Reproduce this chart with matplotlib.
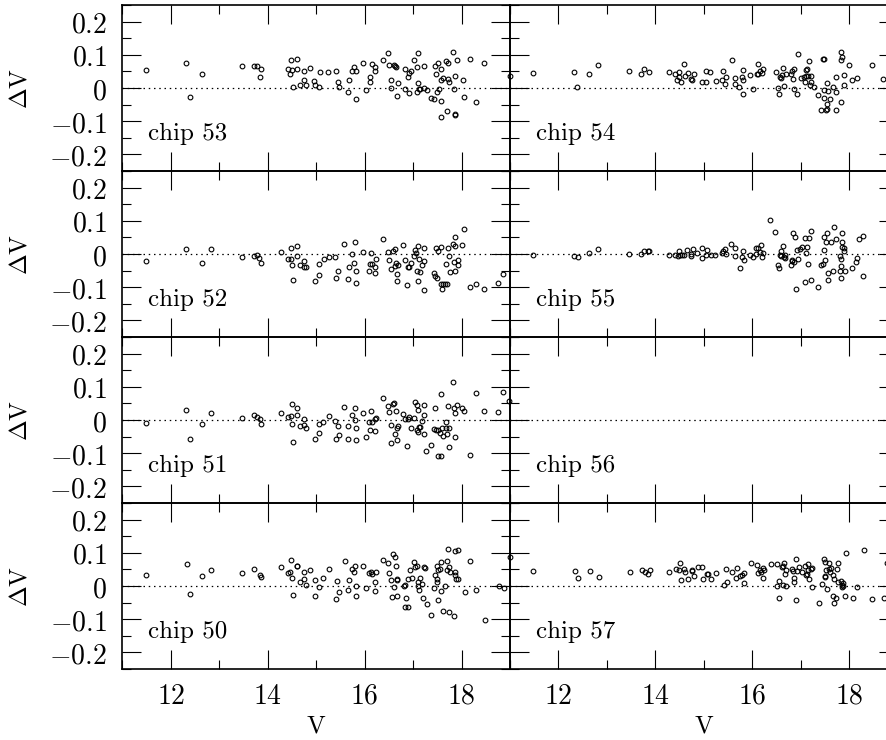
import matplotlib
matplotlib.use('Agg')
import matplotlib.pyplot as plt
from matplotlib.ticker import MultipleLocator

plt.rcParams['mathtext.fontset'] = 'cm'

# V magnitude and Delta V residuals
chip53_v = [11.48, 12.32, 12.40, 12.64, 13.47, 13.71, 13.78, 13.87, 13.85, 14.42, 14.47, 14.50, 14.49, 14.60,
            14.60, 14.53, 14.67, 14.75, 14.75, 14.79, 14.87, 14.96, 14.98, 15.05, 15.07, 15.25, 15.40, 15.45,
            15.48, 15.65, 15.67, 15.73, 15.79, 15.82, 15.82, 15.96, 16.02, 16.11, 16.12, 16.16, 16.22, 16.22,
            16.37, 16.48, 16.51, 16.60, 16.64, 16.62, 16.54, 16.55, 16.68, 16.67, 16.83, 16.84, 16.89, 16.91,
            16.92, 16.95, 17.01, 17.10, 17.09, 17.11, 17.09, 17.13, 17.15, 17.22, 17.23, 17.28, 17.36, 17.44,
            17.46, 17.48, 17.49, 17.52, 17.53, 17.57, 17.58, 17.57, 17.57, 17.62, 17.68, 17.69, 17.73, 17.73,
            17.75, 17.83, 17.84, 17.86, 17.86, 17.86, 17.91, 18.02, 18.06, 18.17, 18.29, 18.47, 19.00]
chip53_dv = [0.053, 0.075, -0.026, 0.042, 0.065, 0.067, 0.065, 0.056, 0.033, 0.057, 0.042, 0.053, 0.083, 0.088,
             0.057, 0.002, 0.010, 0.023, 0.051, 0.008, 0.059, 0.020, 0.010, 0.003, 0.048, 0.047, 0.051, 0.018,
             0.004, -0.013, 0.023, 0.051, 0.063, 0.051, -0.032, 0.076, -0.007, 0.017, 0.034, 0.073, 0.052, 0.062,
             0.084, 0.104, 0.068, 0.069, 0.064, 0.065, 0.025, 0.000, 0.015, -0.025, 0.056, -0.004, 0.034, -0.014,
             0.046, 0.050, 0.085, 0.104, 0.063, 0.016, -0.011, -0.004, -0.002, 0.001, 0.067, -0.007, -0.029, -0.034,
             0.065, 0.043, -0.012, 0.075, -0.002, 0.023, 0.056, -0.039, -0.086, 0.030, 0.080, -0.068, 0.074, 0.026,
             0.017, 0.108, -0.004, 0.037, -0.079, -0.082, 0.084, 0.023, -0.028, 0.088, -0.042, 0.075, 0.037]

chip54_v = [11.48, 12.33, 12.39, 12.64, 12.82, 13.46, 13.70, 13.77, 13.86, 14.28, 14.41, 14.48, 14.49, 14.45,
            14.52, 14.60, 14.61, 14.67, 14.74, 14.75, 14.79, 14.96, 15.04, 15.05, 15.13, 15.25, 15.39, 15.38,
            15.44, 15.46, 15.58, 15.65, 15.64, 15.73, 15.78, 15.81, 15.81, 15.81, 15.96, 16.02, 16.09, 16.11,
            16.12, 16.15, 16.19, 16.22, 16.48, 16.52, 16.55, 16.57, 16.60, 16.61, 16.63, 16.65, 16.69, 16.80,
            16.82, 16.84, 16.85, 16.87, 16.93, 16.95, 17.00, 17.07, 17.08, 17.11, 17.11, 17.12, 17.15, 17.17,
            17.21, 17.22, 17.20, 17.27, 17.35, 17.41, 17.46, 17.48, 17.48, 17.47, 17.53, 17.55, 17.55, 17.56,
            17.55, 17.61, 17.66, 17.72, 17.73, 17.73, 17.82, 17.85, 17.84, 17.84, 17.90, 17.90, 18.00, 18.05,
            18.15, 18.46, 18.69]
chip54_dv = [0.045, 0.049, 0.003, 0.041, 0.069, 0.051, 0.041, 0.056, 0.048, 0.049, 0.042, 0.047, 0.033, 0.025,
             0.018, 0.073, 0.036, 0.044, 0.028, 0.023, 0.042, 0.018, 0.050, 0.017, 0.049, 0.020, 0.051, 0.023,
             0.012, 0.033, 0.084, 0.029, 0.012, 0.004, 0.033, 0.055, 0.025, -0.018, 0.038, -0.004, 0.042, 0.042,
             0.072, 0.050, 0.046, 0.056, 0.047, -0.001, -0.018, 0.034, 0.029, 0.039, 0.061, 0.005, 0.043, 0.042,
             0.050, 0.026, -0.002, 0.058, -0.018, 0.103, 0.030, 0.034, 0.017, 0.053, 0.036, 0.056, 0.036, 0.082,
             0.036, 0.018, 0.010, 0.004, -0.022, -0.067, 0.088, 0.086, -0.005, -0.031, -0.067, -0.064, 0.016, -0.009,
             -0.048, -0.034, 0.002, -0.067, -0.013, 0.033, 0.109, 0.093, 0.083, -0.041, 0.039, 0.008, 0.070, 0.024,
             0.029, 0.069, 0.027]

chip52_v = [11.48, 12.32, 12.64, 12.83, 13.47, 13.71, 13.78, 13.83, 13.87, 14.28, 14.42, 14.48, 14.49, 14.50,
            14.53, 14.60, 14.60, 14.67, 14.75, 14.75, 14.79, 14.97, 15.05, 15.06, 15.16, 15.26, 15.39, 15.40,
            15.45, 15.58, 15.65, 15.67, 15.74, 15.79, 15.81, 15.82, 15.82, 15.96, 16.10, 16.11, 16.13, 16.16,
            16.21, 16.22, 16.23, 16.37, 16.49, 16.51, 16.54, 16.59, 16.62, 16.63, 16.67, 16.67, 16.64, 16.69,
            16.80, 16.83, 16.87, 16.90, 16.92, 16.96, 17.01, 17.03, 17.07, 17.10, 17.09, 17.11, 17.13, 17.15,
            17.19, 17.22, 17.23, 17.23, 17.43, 17.46, 17.48, 17.49, 17.51, 17.57, 17.57, 17.59, 17.62, 17.66,
            17.69, 17.67, 17.73, 17.74, 17.76, 17.82, 17.86, 17.87, 17.85, 17.86, 17.92, 17.92, 18.00, 18.06,
            18.17, 18.29, 18.47, 18.76, 18.86]
chip52_dv = [-0.020, 0.014, -0.027, 0.014, -0.008, -0.006, -0.002, -0.011, -0.026, 0.006, -0.014, -0.014, 0.018, -0.032,
             -0.077, 0.025, -0.007, -0.034, -0.021, -0.040, -0.040, -0.081, -0.064, -0.029, -0.015, -0.009, -0.009, -0.073,
             -0.052, 0.031, -0.076, -0.038, 0.001, -0.027, 0.036, -0.052, -0.086, 0.007, -0.050, -0.029, 0.003, -0.029,
             -0.038, -0.056, -0.016, 0.044, 0.006, -0.018, -0.044, 0.008, 0.016, -0.035, -0.081, -0.061, -0.026, -0.034,
             0.026, -0.018, -0.093, -0.040, -0.038, -0.026, -0.005, 0.012, 0.004, 0.023, -0.050, -0.082, -0.015, -0.053,
             -0.034, -0.109, 0.019, -0.020, -0.057, -0.066, 0.019, -0.072, 0.009, 0.021, -0.091, -0.104, -0.091, -0.091,
             -0.089, -0.031, 0.019, -0.007, -0.053, 0.031, 0.025, 0.051, -0.025, -0.052, -0.017, -0.034, 0.027, 0.075,
             -0.100, -0.090, -0.105, -0.086, -0.061]

chip55_v = [11.48, 12.32, 12.40, 12.64, 12.82, 13.46, 13.70, 13.77, 13.84, 13.86, 14.28, 14.41, 14.46, 14.48,
            14.50, 14.55, 14.60, 14.66, 14.73, 14.74, 14.78, 14.86, 14.96, 14.96, 15.04, 15.06, 15.14, 15.24,
            15.38, 15.40, 15.44, 15.46, 15.57, 15.64, 15.65, 15.74, 15.78, 15.82, 15.81, 15.95, 16.02, 16.07,
            16.08, 16.12, 16.15, 16.18, 16.20, 16.22, 16.36, 16.47, 16.53, 16.55, 16.57, 16.60, 16.63, 16.60,
            16.65, 16.67, 16.67, 16.80, 16.81, 16.82, 16.84, 16.86, 16.88, 16.90, 16.92, 16.95, 16.99, 17.02,
            17.08, 17.08, 17.11, 17.12, 17.14, 17.17, 17.21, 17.22, 17.35, 17.42, 17.45, 17.48, 17.48, 17.50,
            17.53, 17.55, 17.56, 17.57, 17.62, 17.66, 17.69, 17.73, 17.81, 17.82, 17.84, 17.84, 17.86, 17.86,
            17.86, 17.90, 17.90, 17.80, 17.91, 18.05, 18.14, 18.17, 18.20, 18.29, 18.28]
chip55_dv = [-0.003, -0.006, -0.009, 0.004, 0.016, 0.001, -0.001, 0.009, 0.010, 0.010, -0.003, -0.004, -0.007, 0.008,
             -0.003, -0.004, -0.003, 0.012, 0.001, -0.006, 0.014, 0.002, 0.019, -0.011, -0.004, 0.013, -0.003, -0.004,
             0.004, 0.008, 0.015, -0.001, 0.029, 0.018, -0.007, -0.042, -0.010, -0.017, 0.009, -0.004, -0.009, -0.001,
             0.017, 0.019, 0.006, 0.026, -0.009, 0.004, 0.101, 0.067, -0.032, -0.043, -0.003, 0.010, 0.023, -0.005,
             -0.008, -0.002, -0.011, -0.032, -0.021, -0.018, 0.064, -0.025, 0.052, -0.105, 0.013, -0.016, 0.015, 0.022,
             -0.084, 0.049, 0.004, 0.021, -0.030, 0.048, -0.077, 0.068, -0.099, -0.034, -0.030, 0.012, 0.051, -0.017,
             0.036, 0.062, -0.057, -0.079, 0.037, -0.052, 0.080, 0.044, -0.007, -0.015, -0.037, -0.072, 0.022, 0.062,
             0.035, 0.017, 0.009, -0.052, -0.052, -0.042, -0.025, -0.012, 0.046, 0.055, -0.066]

chip51_v = [11.48, 12.32, 12.40, 12.64, 12.83, 13.47, 13.71, 13.78, 13.85, 13.87, 14.28, 14.42, 14.48, 14.50,
            14.50, 14.53, 14.60, 14.60, 14.67, 14.75, 14.75, 14.79, 14.97, 15.05, 15.06, 15.15, 15.26, 15.39,
            15.40, 15.45, 15.48, 15.58, 15.66, 15.65, 15.74, 15.80, 15.81, 15.82, 15.82, 15.96, 16.02, 16.10,
            16.11, 16.13, 16.16, 16.21, 16.21, 16.23, 16.37, 16.48, 16.51, 16.54, 16.55, 16.59, 16.61, 16.62,
            16.64, 16.67, 16.67, 16.69, 16.80, 16.83, 16.87, 16.89, 16.92, 16.96, 17.01, 17.03, 17.09, 17.10,
            17.09, 17.10, 17.13, 17.15, 17.19, 17.22, 17.23, 17.23, 17.27, 17.36, 17.43, 17.46, 17.48, 17.51,
            17.52, 17.57, 17.56, 17.57, 17.59, 17.62, 17.67, 17.67, 17.69, 17.73, 17.74, 17.74, 17.83, 17.85,
            17.86, 17.87, 17.90, 18.00, 18.06, 18.17, 18.29, 18.47, 18.76, 18.86, 18.98]
chip51_dv = [-0.010, 0.031, -0.057, -0.011, 0.021, 0.006, 0.014, 0.010, 0.003, -0.011, 0.022, 0.008, 0.013, 0.049,
             -0.012, -0.065, 0.037, 0.014, -0.018, 0.003, -0.016, -0.024, -0.056, -0.040, -0.011, -0.006, 0.013, -0.004,
             -0.058, -0.017, -0.046, 0.038, -0.018, -0.057, 0.016, 0.001, 0.036, -0.025, -0.059, 0.020, -0.051, -0.007,
             -0.030, 0.026, -0.007, -0.034, 0.003, 0.007, 0.066, 0.042, 0.025, -0.014, -0.070, 0.048, 0.051, -0.041,
             0.027, -0.059, -0.023, -0.019, 0.018, 0.002, -0.077, 0.002, 0.010, -0.025, 0.007, 0.054, 0.044, 0.031,
             -0.030, -0.037, -0.022, -0.020, -0.003, -0.041, 0.044, 0.014, -0.094, -0.074, -0.028, 0.036, -0.030, -0.030,
             -0.109, -0.109, -0.039, 0.078, -0.025, -0.049, -0.006, -0.023, -0.043, 0.041, -0.023, -0.082, 0.114, 0.037,
             -0.051, 0.022, 0.044, 0.037, 0.028, -0.104, 0.082, 0.026, 0.024, 0.085, 0.056]

chip56_v = []
chip56_dv = []

chip50_v = [11.48, 12.33, 12.39, 12.64, 12.83, 13.48, 13.72, 13.85, 13.87, 14.28, 14.42, 14.47, 14.49, 14.50,
            14.53, 14.60, 14.61, 14.67, 14.74, 14.75, 14.79, 14.88, 14.97, 14.98, 15.06, 15.14, 15.26, 15.41,
            15.44, 15.48, 15.59, 15.65, 15.67, 15.74, 15.79, 15.81, 15.82, 15.82, 15.97, 16.03, 16.10, 16.13,
            16.16, 16.21, 16.21, 16.23, 16.37, 16.48, 16.51, 16.55, 16.56, 16.59, 16.62, 16.61, 16.64, 16.67,
            16.67, 16.66, 16.81, 16.83, 16.86, 16.84, 16.89, 16.90, 16.93, 16.97, 17.02, 17.04, 17.09, 17.10,
            17.12, 17.11, 17.15, 17.18, 17.21, 17.23, 17.24, 17.28, 17.36, 17.43, 17.46, 17.49, 17.49, 17.50,
            17.51, 17.52, 17.55, 17.58, 17.58, 17.61, 17.66, 17.69, 17.70, 17.73, 17.74, 17.75, 17.76, 17.85,
            17.86, 17.86, 17.88, 17.87, 17.92, 17.93, 18.07, 18.17, 18.30, 18.48, 18.77, 18.87, 18.99]
chip50_dv = [0.034, 0.065, -0.024, 0.030, 0.049, 0.040, 0.052, 0.032, 0.026, 0.058, 0.039, 0.043, 0.079, 0.025,
             -0.028, 0.059, 0.061, 0.011, 0.021, 0.041, 0.004, 0.049, 0.018, -0.030, -0.004, 0.025, 0.052, -0.039,
             0.015, -0.019, 0.074, -0.012, 0.018, 0.050, 0.041, 0.059, -0.001, -0.029, 0.061, -0.006, 0.039, 0.043,
             0.036, 0.013, -0.015, 0.041, 0.079, 0.068, 0.038, 0.018, -0.034, 0.097, 0.086, -0.002, 0.060, 0.020,
             0.017, -0.029, 0.001, 0.003, -0.035, -0.062, -0.062, 0.020, 0.049, 0.025, 0.073, 0.057, 0.061, -0.001,
             -0.011, 0.011, 0.025, 0.005, -0.037, 0.058, 0.054, -0.055, -0.087, -0.005, 0.034, 0.060, 0.013, 0.022,
             0.047, -0.042, 0.051, 0.072, -0.015, -0.076, -0.001, 0.048, 0.076, 0.112, -0.078, 0.057, 0.041, -0.090,
             0.043, 0.032, 0.022, 0.104, 0.108, 0.020, -0.017, 0.076, -0.011, -0.101, 0.001, -0.006, 0.086]

chip57_v = [11.48, 12.34, 12.40, 12.65, 12.83, 13.48, 13.72, 13.79, 13.85, 13.88, 14.29, 14.42, 14.48, 14.50,
            14.53, 14.60, 14.61, 14.67, 14.75, 14.76, 14.79, 14.88, 14.97, 14.98, 15.06, 15.08, 15.15, 15.26,
            15.41, 15.45, 15.48, 15.59, 15.66, 15.68, 15.74, 15.79, 15.82, 15.83, 15.97, 16.10, 16.12, 16.15,
            16.17, 16.22, 16.22, 16.24, 16.38, 16.50, 16.51, 16.55, 16.56, 16.61, 16.63, 16.64, 16.66, 16.69,
            16.68, 16.70, 16.81, 16.84, 16.85, 16.87, 16.90, 16.91, 16.93, 16.97, 17.02, 17.08, 17.10, 17.12,
            17.14, 17.15, 17.16, 17.21, 17.23, 17.24, 17.37, 17.44, 17.47, 17.49, 17.51, 17.51, 17.52, 17.54,
            17.58, 17.58, 17.60, 17.62, 17.67, 17.67, 17.68, 17.69, 17.72, 17.75, 17.76, 17.76, 17.83, 17.86,
            17.86, 17.87, 17.88, 17.92, 17.93, 18.08, 18.17, 18.30, 18.48, 18.72, 18.77]
chip57_dv = [0.044, 0.046, 0.024, 0.044, 0.028, 0.042, 0.048, 0.043, 0.036, 0.048, 0.043, 0.051, 0.048, 0.068,
             0.019, 0.052, 0.042, 0.021, 0.047, 0.045, 0.029, 0.056, 0.057, 0.020, 0.035, 0.037, 0.021, 0.039,
             0.003, 0.051, 0.012, 0.041, 0.023, 0.053, 0.031, 0.032, 0.040, 0.010, 0.068, 0.062, 0.039, 0.048,
             0.042, 0.054, 0.023, 0.048, 0.066, 0.067, -0.001, 0.015, -0.035, 0.057, 0.003, 0.059, 0.068, 0.048,
             0.035, -0.001, 0.052, 0.045, 0.023, 0.013, 0.081, -0.041, 0.046, 0.057, 0.043, 0.059, 0.034, 0.037,
             0.065, 0.047, 0.021, 0.051, -0.003, 0.054, -0.052, 0.007, 0.082, 0.031, 0.073, 0.028, 0.048, -0.009,
             0.068, 0.051, 0.043, 0.053, 0.034, -0.031, -0.052, 0.020, -0.036, 0.051, 0.069, 0.013, 0.015, 0.004,
             -0.002, 0.009, 0.001, -0.031, 0.099, -0.036, -0.003, 0.107, -0.039, -0.035, 0.070]

chips = [53, 54, 52, 55, 51, 56, 50, 57]
chip_v = [chip53_v, chip54_v, chip52_v, chip55_v, chip51_v, chip56_v, chip50_v, chip57_v]
chip_dv = [chip53_dv, chip54_dv, chip52_dv, chip55_dv, chip51_dv, chip56_dv, chip50_dv, chip57_dv]

yticks = [-0.2, -0.1, 0, 0.1, 0.2]
ytick_labels = ['$-0.2$', '$-0.1$', '$0$', '$0.1$', '$0.2$']
xticks = [12, 14, 16, 18]
xtick_labels = ['$12$', '$14$', '$16$', '$18$']

W, H = 887.0, 740.0
col_left = [122.3, 510.0]
pw, ph, ytop = 387.7, 166.0, 5.0

fig = plt.figure(figsize=(W / 100, H / 100), dpi=100)
fig.patch.set_facecolor('white')

for i in range(len(chips)):
    r, c = divmod(i, 2)
    ax = fig.add_axes([col_left[c] / W, 1 - (ytop + ph * (r + 1)) / H, pw / W, ph / H])
    ax.set_facecolor('none')
    ax.set_xlim(11, 19)
    ax.set_ylim(-0.25, 0.25)

    ax.axhline(0, color='k', lw=0.9, ls=(0, (1.2, 3)))
    ax.plot(chip_v[i], chip_dv[i], 'o', ms=3.4, mfc='none', mec='k', mew=0.8, clip_on=False)

    ax.text(0.066, 0.187, 'chip %d' % chips[i], transform=ax.transAxes,
            fontfamily='cmr10', fontsize=18, va='baseline')

    ax.set_xticks(xticks)
    ax.xaxis.set_minor_locator(MultipleLocator(1))
    ax.set_yticks(yticks)
    ax.yaxis.set_minor_locator(MultipleLocator(0.05))
    ax.tick_params(which='both', direction='in', top=True, right=True, width=0.8)
    ax.tick_params(which='major', length=13.5)
    ax.tick_params(which='minor', length=6.5)
    for s in ax.spines.values():
        s.set_linewidth(1.2)

    if r == 3:
        ax.set_xticklabels(xtick_labels, fontsize=20)
        ax.tick_params(axis='x', pad=9)
        ax.set_xlabel(r'$\mathrm{V}$', fontsize=18)
        ax.xaxis.set_label_coords(0.5, -0.27)
    else:
        ax.tick_params(labelbottom=False)
    if c == 0:
        ax.set_yticklabels(ytick_labels, fontsize=20)
        ax.tick_params(axis='y', pad=11)
        ax.set_ylabel(r'$\Delta\mathrm{V}$', fontsize=18)
        ax.yaxis.set_label_coords(-0.235, 0.5)
    else:
        ax.tick_params(labelleft=False)

fig.savefig('out.png', dpi=100)
